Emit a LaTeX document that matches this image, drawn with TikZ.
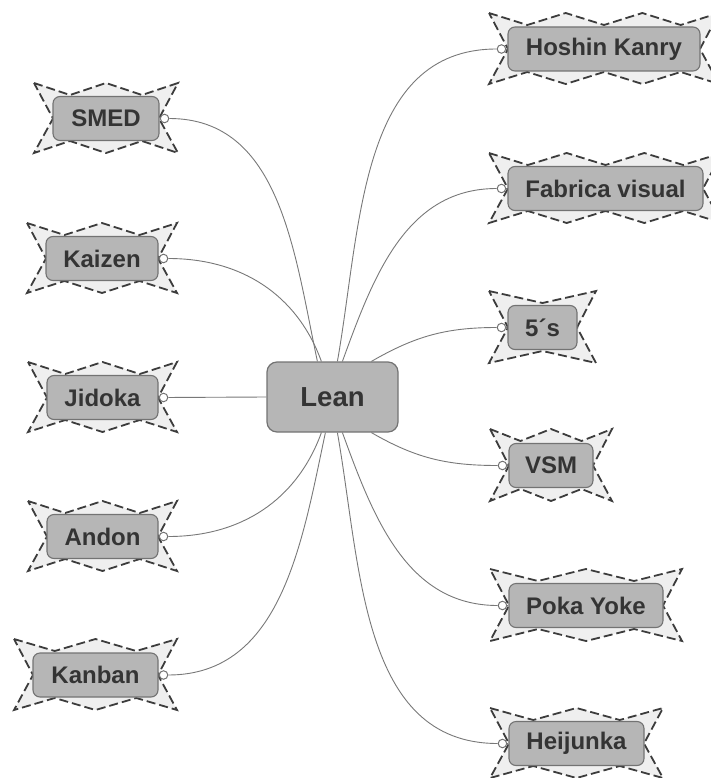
\documentclass[tikz,border=0pt]{standalone}
\usepackage{fontspec}
\setmainfont{Liberation Sans}
\definecolor{starfill}{RGB}{239,239,239}
\definecolor{stardraw}{RGB}{60,60,60}
\definecolor{boxfill}{RGB}{182,182,182}
\definecolor{boxdraw}{RGB}{115,115,115}
\definecolor{txt}{RGB}{52,52,52}
\definecolor{conn}{RGB}{120,120,120}
\tikzset{
  starstyle/.style={fill=starfill,draw=stardraw,line width=1.8pt,dash pattern=on 9pt off 4pt,line join=miter},
  topic/.style={draw=boxdraw,fill=boxfill,line width=1.1pt,rounded corners=7pt,text=txt,
    font=\fontsize{24}{28}\selectfont\bfseries,minimum height=44pt,inner sep=0pt},
  central/.style={draw=boxdraw,fill=boxfill,line width=1.2pt,rounded corners=10pt,text=txt,
    font=\fontsize{27.5}{32}\selectfont\bfseries,minimum width=131pt,minimum height=70pt,inner sep=0pt},
  knob/.style={circle,draw=boxdraw,fill=white,line width=1pt,minimum size=8.5pt,inner sep=0pt},
  link/.style={draw=conn,line width=0.9pt}
}
% star outline: #1 box left, #2 box right, #3 box top, #4 box bottom, #5 number of valleys
\newcommand\zstar[5]{%
  \pgfmathsetmacro\zL{#1-19}%
  \pgfmathsetmacro\zR{#2+19}%
  \pgfmathsetmacro\zT{#3-14}%
  \pgfmathsetmacro\zB{#4+13}%
  \pgfmathsetmacro\zC{(#3+#4)/2}%
  \pgfmathsetmacro\zS{(\zR-\zL)/(2*#5)}%
  \path[starstyle] (\zL,\zT)
    \foreach \i in {1,...,#5}{ -- ({\zL+(2*\i-1)*\zS},{\zT+12}) -- ({\zL+2*\i*\zS},\zT) }
    -- (#2,\zC) -- (\zR,\zB)
    \foreach \i in {1,...,#5}{ -- ({\zR-(2*\i-1)*\zS},{\zB-12}) -- ({\zR-2*\i*\zS},\zB) }
    -- (#1,\zC) -- cycle;
}
\begin{document}
\begin{tikzpicture}[x=1pt,y=-1pt]
\useasboundingbox (0,0) rectangle (711,778);
\clip (0,0) rectangle (711,778);
% stars
\zstar{53}{159}{97}{140}{2}
\zstar{46}{158}{237}{280}{2}
\zstar{47}{158}{376}{419}{2}
\zstar{47}{158}{515}{558}{2}
\zstar{33}{158}{653}{697}{2}
\zstar{508}{700}{27}{71}{3}
\zstar{508}{703}{167}{210}{3}
\zstar{508}{577}{305}{350}{1}
\zstar{509}{593}{443}{488}{2}
\zstar{509}{663}{583}{628}{2}
\zstar{509}{644}{722}{765}{2}
% boxes
\node[central] (lean) at (332.5,397) {Lean};
\node[topic,minimum width=106pt] (smed) at (106,118.5) {SMED};
\node[topic,minimum width=112pt] (kaizen) at (102,258.5) {Kaizen};
\node[topic,minimum width=111pt] (jidoka) at (102.5,397.5) {Jidoka};
\node[topic,minimum width=111pt] (andon) at (102.5,536.5) {Andon};
\node[topic,minimum width=125pt] (kanban) at (95.5,675) {Kanban};
\node[topic,minimum width=192pt] (hoshin) at (604,49) {Hoshin Kanry};
\node[topic,minimum width=195pt] (fabrica) at (605.5,188.5) {Fabrica visual};
\node[topic,minimum width=69pt] (fives) at (542.5,327.5) {5´s};
\node[topic,minimum width=84pt] (vsm) at (551,465.5) {VSM};
\node[topic,minimum width=154pt] (poka) at (586,605.5) {Poka Yoke};
\node[topic,minimum width=135pt] (heij) at (576.5,743.5) {Heijunka};
% knobs
\foreach \n in {smed,kaizen,jidoka,andon,kanban}{
  \node[knob] (\n c) at ([xshift=5pt]\n.east) {};
}
\foreach \n in {hoshin,fabrica,fives,vsm,poka,heij}{
  \node[knob] (\n c) at ([xshift=-6pt]\n.west) {};
}
% connectors
\path[link] (smedc) to[out=0,in=102] ([xshift=51pt]lean.north west);
\path[link] (kaizenc) to[out=0,in=110] ([xshift=55pt]lean.north west);
\path[link] (jidokac) -- (lean.west);
\path[link] (andonc) to[out=0,in=-110] ([xshift=55pt]lean.south west);
\path[link] (kanbanc) to[out=0,in=-102] ([xshift=59pt]lean.south west);
\path[link] (hoshinc) to[out=180,in=80] ([xshift=71pt]lean.north west);
\path[link] (fabricac) to[out=180,in=70] ([xshift=76pt]lean.north west);
\path[link] (fivesc) to[out=180,in=30] ([xshift=105pt]lean.north west);
\path[link] (vsmc) to[out=180,in=-30] ([xshift=105pt]lean.south west);
\path[link] (pokac) to[out=180,in=-70] ([xshift=76pt]lean.south west);
\path[link] (heijc) to[out=180,in=-80] ([xshift=71pt]lean.south west);
% short stubs between knob and box
\foreach \n in {smed,kaizen,jidoka,andon,kanban}{ \path[link] (\n c) -- (\n.east); }
\foreach \n in {hoshin,fabrica,fives,vsm,poka,heij}{ \path[link] (\n c) -- (\n.west); }
\end{tikzpicture}
\end{document}
